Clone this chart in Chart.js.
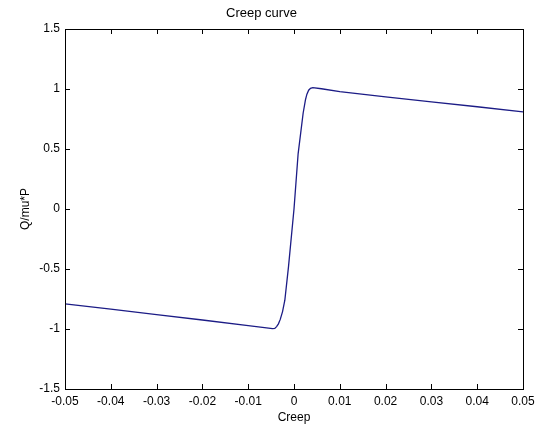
<!DOCTYPE html>
<html>
<head>
<meta charset="utf-8">
<script src="https://cdn.jsdelivr.net/npm/chart.js@4/dist/chart.umd.min.js"></script>
<style>
  html, body { margin: 0; padding: 0; background: #fff; }
  #wrap { width: 542px; height: 425px; }
</style>
</head>
<body>
<div id="wrap"><canvas id="creepChart" width="542" height="425"></canvas></div>
<script>
// creep values
const creepX = [-0.05, -0.04, -0.03, -0.02, -0.01, -0.006, -0.0047, -0.0042, -0.0038, -0.0034, -0.003, -0.0025,
    -0.002, -0.0012, 0, 0.0009, 0.002, 0.0025, 0.0028, 0.0032, 0.0036, 0.0041, 0.006, 0.01, 0.02, 0.03, 0.04, 0.05];
const qOverMuP = [-0.79, -0.835, -0.88, -0.925, -0.972, -0.99, -0.997, -0.995, -0.98, -0.957, -0.92, -0.855,
    -0.76, -0.48, 0.0, 0.46, 0.80, 0.91, 0.955, 0.99, 1.006, 1.012, 1.002, 0.978, 0.935, 0.893, 0.852, 0.81];
const xTicks = [-0.05, -0.04, -0.03, -0.02, -0.01, 0, 0.01, 0.02, 0.03, 0.04, 0.05];
const yTicks = [-1.5, -1, -0.5, 0, 0.5, 1, 1.5];

const FONT = "'Liberation Sans', Arial, sans-serif";

// matlab style box with inward ticks on all four sides
const boxTicks = {
    id: 'boxTicks',
    afterDraw(chart) {
        const ctx = chart.ctx;
        const a = chart.chartArea;
        const xs = chart.scales.x;
        const ys = chart.scales.y;
        const len = 5;
        ctx.save();
        ctx.strokeStyle = '#000';
        ctx.lineWidth = 1;
        ctx.beginPath();
        xTicks.forEach(v => {
            const px = Math.round(xs.getPixelForValue(v)) + 0.5;
            ctx.moveTo(px, a.bottom); ctx.lineTo(px, a.bottom - len);
            ctx.moveTo(px, a.top); ctx.lineTo(px, a.top + len);
        });
        yTicks.forEach(v => {
            const py = Math.round(ys.getPixelForValue(v)) + 0.5;
            ctx.moveTo(a.left, py); ctx.lineTo(a.left + len, py);
            ctx.moveTo(a.right, py); ctx.lineTo(a.right - len, py);
        });
        ctx.stroke();
        ctx.strokeRect(Math.round(a.left) + 0.5, Math.round(a.top) + 0.5,
            Math.round(a.right - a.left), Math.round(a.bottom - a.top));
        ctx.restore();
    }
};

const points = creepX.map((x, i) => ({ x: x, y: qOverMuP[i] }));

new Chart(document.getElementById('creepChart').getContext('2d'), {
    type: 'scatter',
    data: {
        datasets: [{
            data: points,
            showLine: true,
            borderColor: '#1c1c86',
            borderWidth: 1.3,
            pointRadius: 0,
            tension: 0
        }]
    },
    options: {
        responsive: false,
        animation: false,
        layout: { padding: { left: 0, right: 19, top: 0, bottom: 0 } },
        plugins: {
            legend: { display: false },
            tooltip: { enabled: false },
            title: {
                display: true,
                text: 'Creep curve',
                color: '#000',
                font: { family: FONT, size: 13, weight: 'normal', lineHeight: 1.2 },
                padding: { top: 6, bottom: 7.4 }
            }
        },
        scales: {
            x: {
                type: 'linear',
                min: -0.05,
                max: 0.05,
                afterBuildTicks: s => { s.ticks = xTicks.map(v => ({ value: v })); },
                afterFit: s => { s.height = 36; },
                grid: { display: false, drawTicks: false },
                border: { display: false },
                ticks: {
                    color: '#000',
                    padding: 5,
                    maxRotation: 0,
                    autoSkip: false,
                    font: { family: FONT, size: 12 },
                    callback: v => String(Math.round(v * 100) / 100)
                },
                title: {
                    display: true,
                    text: 'Creep',
                    color: '#000',
                    font: { family: FONT, size: 12 },
                    padding: { top: 0, bottom: 0 }
                }
            },
            y: {
                type: 'linear',
                min: -1.5,
                max: 1.5,
                afterBuildTicks: s => { s.ticks = yTicks.map(v => ({ value: v })); },
                afterFit: s => { s.width = 65; },
                grid: { display: false, drawTicks: false },
                border: { display: false },
                ticks: {
                    color: '#000',
                    padding: 5,
                    autoSkip: false,
                    font: { family: FONT, size: 12 },
                    callback: v => String(v)
                },
                title: {
                    display: true,
                    text: 'Q/mu*P',
                    color: '#000',
                    font: { family: FONT, size: 12 },
                    padding: { top: 18, bottom: 0 }
                }
            }
        }
    },
    plugins: [boxTicks]
});
</script>
</body>
</html>
